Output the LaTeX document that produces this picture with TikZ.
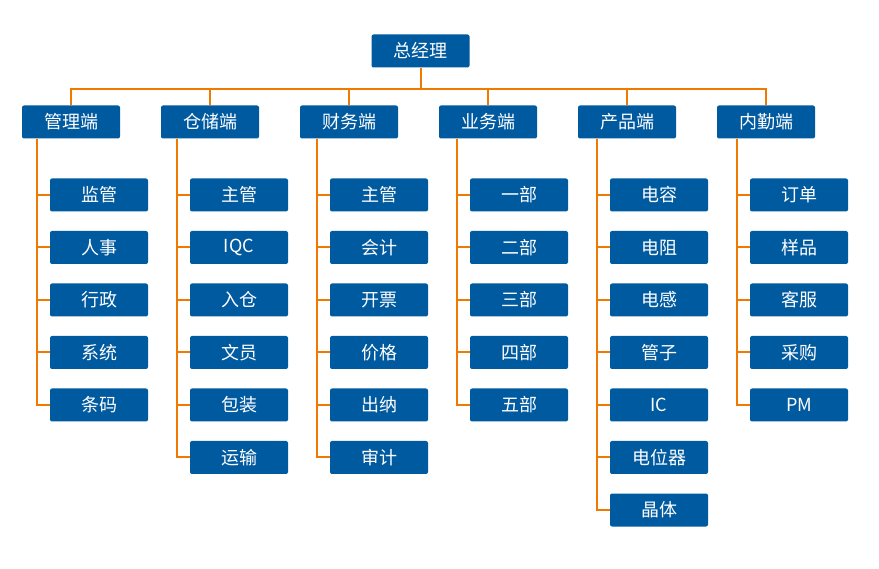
\documentclass[tikz,border=0pt]{standalone}
\usepackage{fontspec}
\setmainfont{Noto Sans CJK SC}
\usepackage{xcolor}
\usepackage{tikz}
\usetikzlibrary{positioning}

\definecolor{boxblue}{RGB}{0,90,160}
\definecolor{linkorange}{RGB}{240,122,0}

\tikzset{
    unit/.style={fill=boxblue, text=white, rounded corners=2pt,
        minimum width=98pt, minimum height=33pt, inner sep=0pt,
        font=\fontsize{18}{18}\selectfont},
    link/.style={draw=linkorange, line width=2pt}
}

\begin{document}
\begin{tikzpicture}[node distance=52.5pt]
    \useasboundingbox (0,0) rectangle (879pt,-569pt);

    % top
    \node[unit] (zjl) at (420.5pt,-51pt) {总经理};

    % departments
    \node[unit] (guanli) at (71pt,-122pt) {管理端};
    \node[unit, right of=guanli, node distance=139pt] (cangchu) {仓储端};
    \node[unit, right of=cangchu, node distance=139pt] (caiwu) {财务端};
    \node[unit, right of=caiwu, node distance=139pt] (yewu) {业务端};
    \node[unit, right of=yewu, node distance=139pt] (chanpin) {产品端};
    \node[unit, right of=chanpin, node distance=139pt] (neiqin) {内勤端};

    % 管理端
    \node[unit, below of=guanli, xshift=28pt, node distance=73pt] (gl1) {监管};
    \node[unit, below of=gl1] (gl2) {人事};
    \node[unit, below of=gl2] (gl3) {行政};
    \node[unit, below of=gl3] (gl4) {系统};
    \node[unit, below of=gl4] (gl5) {条码};

    % 仓储端
    \node[unit, below of=cangchu, xshift=29pt, node distance=73pt] (cc1) {主管};
    \node[unit, below of=cc1] (cc2) {IQC};
    \node[unit, below of=cc2] (cc3) {入仓};
    \node[unit, below of=cc3] (cc4) {文员};
    \node[unit, below of=cc4] (cc5) {包装};
    \node[unit, below of=cc5] (cc6) {运输};

    % 财务端
    \node[unit, below of=caiwu, xshift=30pt, node distance=73pt] (cw1) {主管};
    \node[unit, below of=cw1] (cw2) {会计};
    \node[unit, below of=cw2] (cw3) {开票};
    \node[unit, below of=cw3] (cw4) {价格};
    \node[unit, below of=cw4] (cw5) {出纳};
    \node[unit, below of=cw5] (cw6) {审计};

    % 业务端
    \node[unit, below of=yewu, xshift=31pt, node distance=73pt] (yw1) {一部};
    \node[unit, below of=yw1] (yw2) {二部};
    \node[unit, below of=yw2] (yw3) {三部};
    \node[unit, below of=yw3] (yw4) {四部};
    \node[unit, below of=yw4] (yw5) {五部};

    % 产品端
    \node[unit, below of=chanpin, xshift=32pt, node distance=73pt] (cp1) {电容};
    \node[unit, below of=cp1] (cp2) {电阻};
    \node[unit, below of=cp2] (cp3) {电感};
    \node[unit, below of=cp3] (cp4) {管子};
    \node[unit, below of=cp4] (cp5) {IC};
    \node[unit, below of=cp5] (cp6) {电位器};
    \node[unit, below of=cp6] (cp7) {晶体};

    % 内勤端
    \node[unit, below of=neiqin, xshift=33pt, node distance=73pt] (nq1) {订单};
    \node[unit, below of=nq1] (nq2) {样品};
    \node[unit, below of=nq2] (nq3) {客服};
    \node[unit, below of=nq3] (nq4) {采购};
    \node[unit, below of=nq4] (nq5) {PM};

    % bus
    \draw[link] (zjl.south) -- ++(0,-21pt) coordinate (bus);
    \draw[link] (guanli.north) |- (bus) -| (neiqin.north);
    \draw[link] (cangchu.north) -- (cangchu.north |- bus);
    \draw[link] (caiwu.north) -- (caiwu.north |- bus);
    \draw[link] (yewu.north) -- (yewu.north |- bus);
    \draw[link] (chanpin.north) -- (chanpin.north |- bus);

    % branches
    \draw[link] ([xshift=15pt]guanli.south west) |- (gl1.west);
    \draw[link] ([xshift=15pt]guanli.south west) |- (gl2.west);
    \draw[link] ([xshift=15pt]guanli.south west) |- (gl3.west);
    \draw[link] ([xshift=15pt]guanli.south west) |- (gl4.west);
    \draw[link] ([xshift=15pt]guanli.south west) |- (gl5.west);

    \draw[link] ([xshift=16pt]cangchu.south west) |- (cc1.west);
    \draw[link] ([xshift=16pt]cangchu.south west) |- (cc2.west);
    \draw[link] ([xshift=16pt]cangchu.south west) |- (cc3.west);
    \draw[link] ([xshift=16pt]cangchu.south west) |- (cc4.west);
    \draw[link] ([xshift=16pt]cangchu.south west) |- (cc5.west);
    \draw[link] ([xshift=16pt]cangchu.south west) |- (cc6.west);

    \draw[link] ([xshift=17pt]caiwu.south west) |- (cw1.west);
    \draw[link] ([xshift=17pt]caiwu.south west) |- (cw2.west);
    \draw[link] ([xshift=17pt]caiwu.south west) |- (cw3.west);
    \draw[link] ([xshift=17pt]caiwu.south west) |- (cw4.west);
    \draw[link] ([xshift=17pt]caiwu.south west) |- (cw5.west);
    \draw[link] ([xshift=17pt]caiwu.south west) |- (cw6.west);

    \draw[link] ([xshift=18pt]yewu.south west) |- (yw1.west);
    \draw[link] ([xshift=18pt]yewu.south west) |- (yw2.west);
    \draw[link] ([xshift=18pt]yewu.south west) |- (yw3.west);
    \draw[link] ([xshift=18pt]yewu.south west) |- (yw4.west);
    \draw[link] ([xshift=18pt]yewu.south west) |- (yw5.west);

    \draw[link] ([xshift=19pt]chanpin.south west) |- (cp1.west);
    \draw[link] ([xshift=19pt]chanpin.south west) |- (cp2.west);
    \draw[link] ([xshift=19pt]chanpin.south west) |- (cp3.west);
    \draw[link] ([xshift=19pt]chanpin.south west) |- (cp4.west);
    \draw[link] ([xshift=19pt]chanpin.south west) |- (cp5.west);
    \draw[link] ([xshift=19pt]chanpin.south west) |- (cp6.west);
    \draw[link] ([xshift=19pt]chanpin.south west) |- (cp7.west);

    \draw[link] ([xshift=20pt]neiqin.south west) |- (nq1.west);
    \draw[link] ([xshift=20pt]neiqin.south west) |- (nq2.west);
    \draw[link] ([xshift=20pt]neiqin.south west) |- (nq3.west);
    \draw[link] ([xshift=20pt]neiqin.south west) |- (nq4.west);
    \draw[link] ([xshift=20pt]neiqin.south west) |- (nq5.west);
\end{tikzpicture}
\end{document}
